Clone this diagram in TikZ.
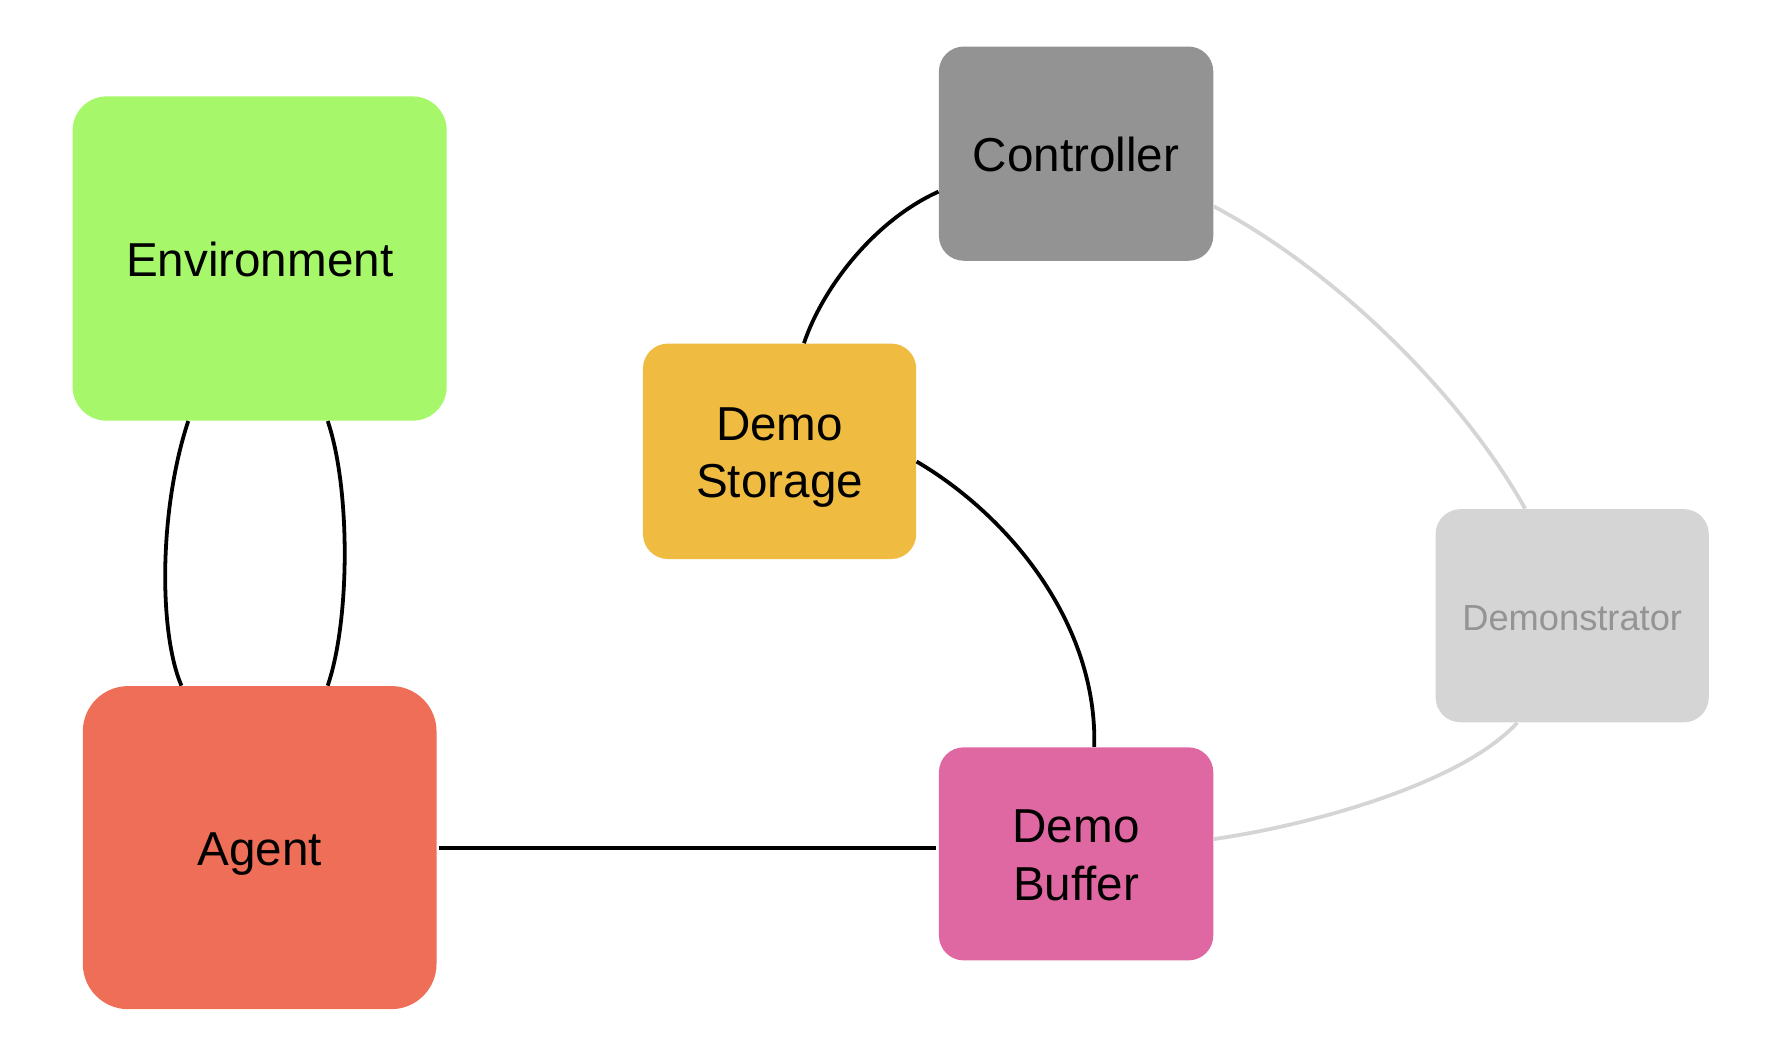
\documentclass[tikz,border=0pt]{standalone}
\usepackage{fontspec}
\setmainfont{Liberation Sans}
\usetikzlibrary{calc}
\definecolor{envc}{HTML}{A6F76A}
\definecolor{agentc}{HTML}{EE6E58}
\definecolor{ctrlc}{HTML}{939393}
\definecolor{storc}{HTML}{EFBB40}
\definecolor{bufc}{HTML}{DF68A3}
\definecolor{demc}{HTML}{D5D5D5}
\definecolor{demtext}{HTML}{949494}
\newcommand\dnline[1]{\raisebox{-8.8pt}[0pt][0pt]{#1}}
\newcommand\dnsmall[1]{\raisebox{-7.2pt}[0pt][0pt]{#1}}
\begin{document}
\begin{tikzpicture}[x=0.02cm,y=-0.02cm,
  box/.style={draw=none,rectangle,rounded corners=0.44cm,align=center,inner sep=0pt,
    font=\fontsize{23.9}{28.9}\selectfont},
  link/.style={line width=1.9pt,black},
  faint/.style={line width=1.9pt,demc}]
\useasboundingbox (0,0) rectangle (1568,933);
\node[box,fill=envc,minimum width=6.6cm,minimum height=5.72cm,rounded corners=0.6cm] (env) at (229,228) {\dnline{Environment}};
\node[box,fill=agentc,minimum width=6.24cm,minimum height=5.7cm,rounded corners=0.8cm] (agent) at (229,747.5) {\dnline{Agent}};
\node[box,fill=ctrlc,minimum width=4.84cm,minimum height=3.78cm] (ctrl) at (949,135.5) {\dnline{Controller}};
\node[box,fill=storc,minimum width=4.82cm,minimum height=3.8cm] (stor) at (687.5,398) {\dnline{Demo}\\\dnline{Storage}};
\node[box,fill=demc,minimum width=4.82cm,minimum height=3.76cm,text=demtext,font=\fontsize{18.2}{22}\selectfont] (dem) at (1386.5,543) {\dnsmall{Demonstrator}};
\node[box,fill=bufc,minimum width=4.84cm,minimum height=3.76cm] (buf) at (949,753) {\dnline{Demo}\\\dnline{Buffer}};
% Environment - Agent
\draw[link] ($(env.south)+(-63,0)$) .. controls (140,450) and (140,558) .. ($(agent.north)+(-69,0)$);
\draw[link] ($(env.south)+(60,0)$) .. controls (309,430) and (309,546) .. ($(agent.north)+(60,0)$);
% Controller - Demo Storage
\draw[link] ($(ctrl.west)+(0,33.5)$) .. controls (770,195) and (725,255) .. ($(stor.north)+(21.5,0)$);
% Demo Storage - Demo Buffer
\draw[link] ($(stor.east)+(0,9)$) .. controls (890,455) and (968,550) .. ($(buf.north)+(16,0)$);
% Agent - Demo Buffer
\draw[link] ($(agent.east)+(2,0)$) -- ($(agent.east -| buf.west)+(-2,0)$);
% Controller - Demonstrator
\draw[faint] ($(ctrl.east)+(0,46.5)$) .. controls (1180,240) and (1290,350) .. ($(dem.north)+(-41.5,0)$);
% Demonstrator - Demo Buffer
\draw[faint] ($(dem.south)+(-48.5,0)$) .. controls (1290,690) and (1160,727) .. ($(buf.east)+(0,-13)$);
\end{tikzpicture}
\end{document}
